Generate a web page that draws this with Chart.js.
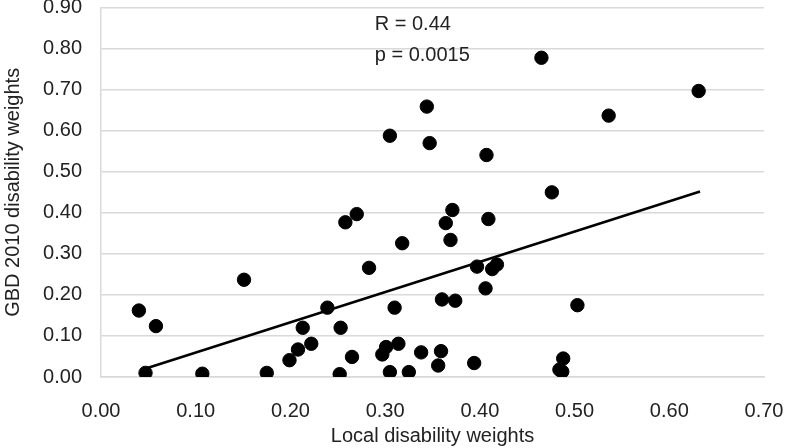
<!DOCTYPE html>
<html lang="en">
<head>
    <meta charset="UTF-8">
    <title>Local vs GBD 2010 disability weights</title>
    <script src="https://cdn.jsdelivr.net/npm/chart.js"></script>
    <style>
        html, body { margin: 0; padding: 0; background: #fff; }
        #wrap { width: 785px; height: 448px; }
    </style>
</head>
<body>
    <div id="wrap"><canvas id="scatterChart" width="785" height="448"></canvas></div>

    <script>
        // Data
        const localWeights = [
            0.040, 0.058, 0.047, 0.107, 0.151, 0.175, 0.199, 0.208, 0.213, 0.222,
            0.239, 0.252, 0.253, 0.258, 0.265, 0.270, 0.283, 0.297, 0.301, 0.305,
            0.305, 0.310, 0.314, 0.318, 0.325, 0.338, 0.344, 0.347, 0.356, 0.359,
            0.360, 0.364, 0.369, 0.371, 0.374, 0.394, 0.397, 0.406, 0.407, 0.409,
            0.413, 0.418, 0.465, 0.476, 0.484, 0.488, 0.503, 0.536, 0.631, 0.487
        ];
        const gbdWeights = [
            0.162, 0.124, 0.010, 0.008, 0.237, 0.010, 0.041, 0.067, 0.120, 0.081,
            0.169, 0.007, 0.120, 0.377, 0.049, 0.397, 0.266, 0.055, 0.073, 0.012,
            0.588, 0.169, 0.081, 0.326, 0.012, 0.060, 0.659, 0.570, 0.028, 0.063,
            0.189, 0.375, 0.334, 0.407, 0.186, 0.034, 0.269, 0.216, 0.541, 0.385,
            0.263, 0.274, 0.778, 0.450, 0.018, 0.045, 0.175, 0.637, 0.697, 0.013
        ];
        // Fitted line ends
        const trendX = [0.0465, 0.6325];
        const trendY = [0.020, 0.452];
        const statLines = ['R = 0.44', 'p = 0.0015'];
        const xTicks = [0, 0.1, 0.2, 0.3, 0.4, 0.5, 0.6, 0.7];
        const yTicks = [0, 0.1, 0.2, 0.3, 0.4, 0.5, 0.6, 0.7, 0.8, 0.9];

        const font = "'Liberation Sans', Arial, Helvetica, sans-serif";
        const textColor = '#222';
        const gridColor = '#d9d9d9';

        const points = localWeights.map((x, i) => ({ x: x, y: gbdWeights[i] }));
        const trend = trendX.map((x, i) => ({ x: x, y: trendY[i] }));

        // Writes the R and p values in the upper part of the plot
        const statsPlugin = {
            id: 'stats',
            afterDatasetsDraw(chart) {
                const ctx = chart.ctx;
                const xs = chart.scales.x, ys = chart.scales.y;
                ctx.save();
                ctx.font = '20px ' + font;
                ctx.fillStyle = textColor;
                ctx.textAlign = 'left';
                ctx.textBaseline = 'middle';
                ctx.fillText(statLines[0], xs.getPixelForValue(0.289), ys.getPixelForValue(0.858));
                ctx.fillText(statLines[1], xs.getPixelForValue(0.289), ys.getPixelForValue(0.783));
                ctx.restore();
            }
        };

        new Chart(document.getElementById('scatterChart'), {
            type: 'scatter',
            data: {
                datasets: [
                    {
                        data: points,
                        backgroundColor: '#000',
                        borderColor: '#000',
                        pointRadius: 6.7,
                        pointHoverRadius: 6.7
                    },
                    {
                        type: 'line',
                        data: trend,
                        borderColor: '#000',
                        borderWidth: 2.5,
                        pointRadius: 0,
                        fill: false
                    }
                ]
            },
            options: {
                responsive: false,
                animation: false,
                layout: { padding: { top: 7, right: 21, left: 0, bottom: 0 } },
                plugins: {
                    legend: { display: false },
                    tooltip: { enabled: false }
                },
                scales: {
                    x: {
                        type: 'linear',
                        min: 0,
                        max: 0.7,
                        afterBuildTicks: (scale) => { scale.ticks = xTicks.map(v => ({ value: v })); },
                        afterFit: (scale) => {
                            scale.height = 71;
                            scale.paddingLeft = 0;
                            scale.paddingRight = 0;
                        },
                        grid: { display: false },
                        border: { display: true, color: gridColor, width: 1.5 },
                        ticks: {
                            color: textColor,
                            font: { family: font, size: 20 },
                            padding: 14,
                            maxRotation: 0,
                            callback: (v) => v.toFixed(2)
                        },
                        title: {
                            display: true,
                            text: 'Local disability weights',
                            color: textColor,
                            font: { family: font, size: 20 },
                            padding: { top: 0, bottom: 0 }
                        }
                    },
                    y: {
                        type: 'linear',
                        min: 0,
                        max: 0.9,
                        afterBuildTicks: (scale) => { scale.ticks = yTicks.map(v => ({ value: v })); },
                        afterFit: (scale) => {
                            scale.width = 101;
                            scale.paddingTop = 0;
                            scale.paddingBottom = 0;
                        },
                        grid: { color: gridColor, lineWidth: 1.5, drawTicks: false },
                        border: { display: true, color: gridColor, width: 1.5 },
                        ticks: {
                            color: textColor,
                            font: { family: font, size: 20 },
                            padding: 19,
                            callback: (v) => v.toFixed(2)
                        },
                        title: {
                            display: true,
                            text: 'GBD 2010 disability weights',
                            color: textColor,
                            font: { family: font, size: 20 },
                            padding: { top: 1, bottom: 0 }
                        }
                    }
                }
            },
            plugins: [statsPlugin]
        });
    </script>
</body>
</html>
